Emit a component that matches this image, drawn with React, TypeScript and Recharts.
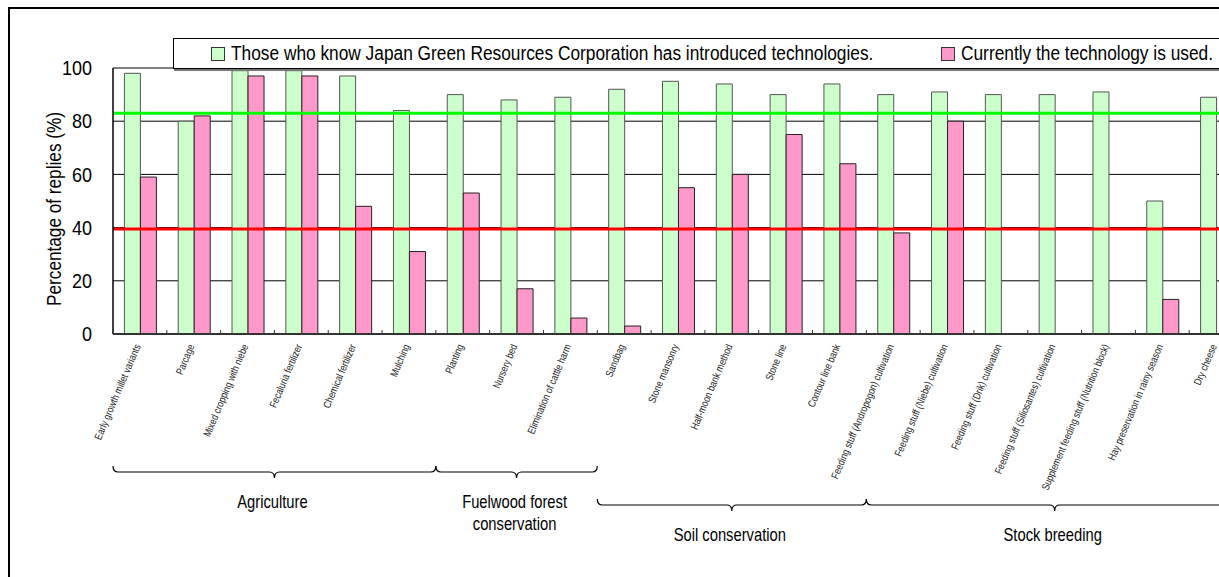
import { Bar, BarChart, CartesianGrid, ReferenceLine, XAxis, YAxis } from "recharts";

const CATEGORIES = [
  "Early growth millet variants",
  "Parcage",
  "Mixed cropping with niebe",
  "Fecaluria fertilizer",
  "Chemical fertilizer",
  "Mulching",
  "Planting",
  "Nursery bed",
  "Elimination of cattle harm",
  "Sandbag",
  "Stone mansonry",
  "Half-moon bank method",
  "Stone line",
  "Contour line bank",
  "Feeding stuff (Andropogon) cultivation",
  "Feeding stuff (Niebe) cultivation",
  "Feeding stuff (Drik) cultivation",
  "Feeding stuff (Siliosantes) cultivation",
  "Supplement feeding stuff (Nutrition block)",
  "Hay preservation in rainy season",
  "Dry cheese",
];

const KNOW = [98, 80, 99, 99, 97, 84, 90, 88, 89, 92, 95, 94, 90, 94, 90, 91, 90, 90, 91, 50, 89];
const USED = [59, 82, 97, 97, 48, 31, 53, 17, 6, 3, 55, 60, 75, 64, 38, 80, null, null, null, 13, null];

const KNOW_NAME = "Those who know Japan Green Resources Corporation has introduced technologies.";
const USED_NAME = "Currently the technology is used.";

const KNOW_REF = 83;
const USED_REF = 39.5;

const Y_TICKS = [0, 20, 40, 60, 80, 100];

// group brackets under the category labels (row 0 = upper, row 1 = lower)
const GROUPS = [
  { lines: ["Agriculture"], start: 0, count: 6, row: 0 },
  { lines: ["Fuelwood forest", "conservation"], start: 6, count: 3, row: 0 },
  { lines: ["Soil conservation"], start: 9, count: 5, row: 1 },
  { lines: ["Stock breeding"], start: 14, count: 7, row: 1 },
];

// no narrow font installed, so squeeze Liberation Sans horizontally
const FONT = '"Liberation Sans", Arial, sans-serif';
const GREEN = "#ccffcc";
const PINK = "#ff99cc";

const data = CATEGORIES.map((name, i) => ({ name, know: KNOW[i], used: USED[i] }));

function CategoryTick(props: any) {
  const { x, y, payload, index } = props;
  const half = payload?.offset || 26.9;
  const group = GROUPS.find((g) => g.start === index);
  let brace = null;
  if (group) {
    const x0 = x - half;
    const x1 = x0 + group.count * half * 2;
    const xc = (x0 + x1) / 2;
    const yl = y + (group.row === 0 ? 138 : 171);
    const d =
      `M ${x0} ${yl - 6} Q ${x0} ${yl} ${x0 + 5} ${yl} L ${xc - 5} ${yl} Q ${xc} ${yl} ${xc} ${yl + 6} ` +
      `Q ${xc} ${yl} ${xc + 5} ${yl} L ${x1 - 5} ${yl} Q ${x1} ${yl} ${x1} ${yl - 6}`;
    brace = (
      <g>
        <path d={d} fill="none" stroke="#000" strokeWidth={1.2} />
        {group.lines.map((line, k) => (
          <text
            key={k}
            transform={`translate(${xc - 2},${yl + 36 + k * 22}) scale(0.82,1)`}
            textAnchor="middle"
            fontSize={18}
            fontFamily={FONT}
            fill="#000"
          >
            {line}
          </text>
        ))}
      </g>
    );
  }
  return (
    <g>
      <line x1={x - half} x2={x - half} y1={y} y2={y - 4} stroke="#333" />
      <text
        transform={`translate(${x + 1},${y + 12}) rotate(-67) scale(0.82,1)`}
        textAnchor="end"
        fontSize={10.5}
        fontFamily={FONT}
        fill="#222"
      >
        {payload.value}
      </text>
      {brace}
    </g>
  );
}

function ValueTick(props: any) {
  const { x, y, payload } = props;
  return (
    <text transform={`translate(${x},${y}) scale(0.9,1)`} textAnchor="end" dy="0.36em" fontSize={20} fontFamily={FONT} fill="#000">
      {payload.value}
    </text>
  );
}

function YTitle(props: any) {
  const vb = props.viewBox;
  const cx = vb.x + 53;
  const cy = vb.y + vb.height / 2 + 8;
  return (
    <text
      transform={`translate(${cx},${cy}) rotate(-90) scale(0.86,1)`}
      textAnchor="middle"
      fontSize={20}
      fontFamily={FONT}
      fill="#000"
    >
      Percentage of replies (%)
    </text>
  );
}

function LegendBox() {
  const square = (fill: string) => ({
    position: "absolute" as const,
    top: 8,
    width: 12,
    height: 12,
    background: fill,
    border: "1px solid #333",
  });
  const label = {
    position: "absolute" as const,
    top: 0,
    transform: "scaleX(0.865)",
    transformOrigin: "left center",
  };
  return (
    <div
      style={{
        position: "absolute",
        left: 173,
        top: 38,
        width: 1100,
        height: 29,
        border: "1px solid #000",
        boxShadow: "1px 2px 0 #777",
        background: "#fff",
        fontFamily: FONT,
        fontSize: 20,
        lineHeight: "29px",
        whiteSpace: "nowrap",
      }}
    >
      <span style={{ ...square(GREEN), left: 37 }} />
      <span style={{ ...label, left: 57 }}>{KNOW_NAME}</span>
      <span style={{ ...square(PINK), left: 767 }} />
      <span style={{ ...label, left: 787 }}>{USED_NAME}</span>
    </div>
  );
}

export default function App() {
  return (
    <div style={{ position: "fixed", left: 0, top: 0, width: 1219, height: 577, overflow: "hidden", background: "#fff" }}>
      <div
        style={{
          position: "absolute",
          left: 8,
          top: 7,
          width: 1300,
          height: 700,
          border: "2px solid #000",
          boxSizing: "border-box",
        }}
      />
      <div style={{ position: "absolute", left: 8, top: 8 }}>
        <BarChart
          width={1260}
          height={569}
          data={data}
          margin={{ top: 60, right: 25, bottom: 0, left: 0 }}
          barCategoryGap={11.4}
          barGap={0}
        >
          <CartesianGrid vertical={false} stroke="#000" strokeWidth={1} />
          <YAxis
            width={105}
            domain={[0, 100]}
            ticks={Y_TICKS}
            tickLine={false}
            tickMargin={15}
            axisLine={{ stroke: "#000", strokeWidth: 1.5 }}
            tick={<ValueTick />}
            label={{ content: YTitle }}
          />
          <XAxis
            dataKey="name"
            height={243}
            interval={0}
            tickLine={false}
            tickSize={0}
            tickMargin={0}
            axisLine={{ stroke: "#333", strokeWidth: 2 }}
            tick={<CategoryTick />}
          />
          <Bar dataKey="know" name={KNOW_NAME} fill={GREEN} stroke="#555" strokeWidth={1} isAnimationActive={false} />
          <Bar dataKey="used" name={USED_NAME} fill={PINK} stroke="#222" strokeWidth={1} isAnimationActive={false} />
          <ReferenceLine y={KNOW_REF} stroke="#00ff00" strokeWidth={3} />
          <ReferenceLine y={USED_REF} stroke="#ff0000" strokeWidth={3} />
        </BarChart>
      </div>
      <LegendBox />
    </div>
  );
}
